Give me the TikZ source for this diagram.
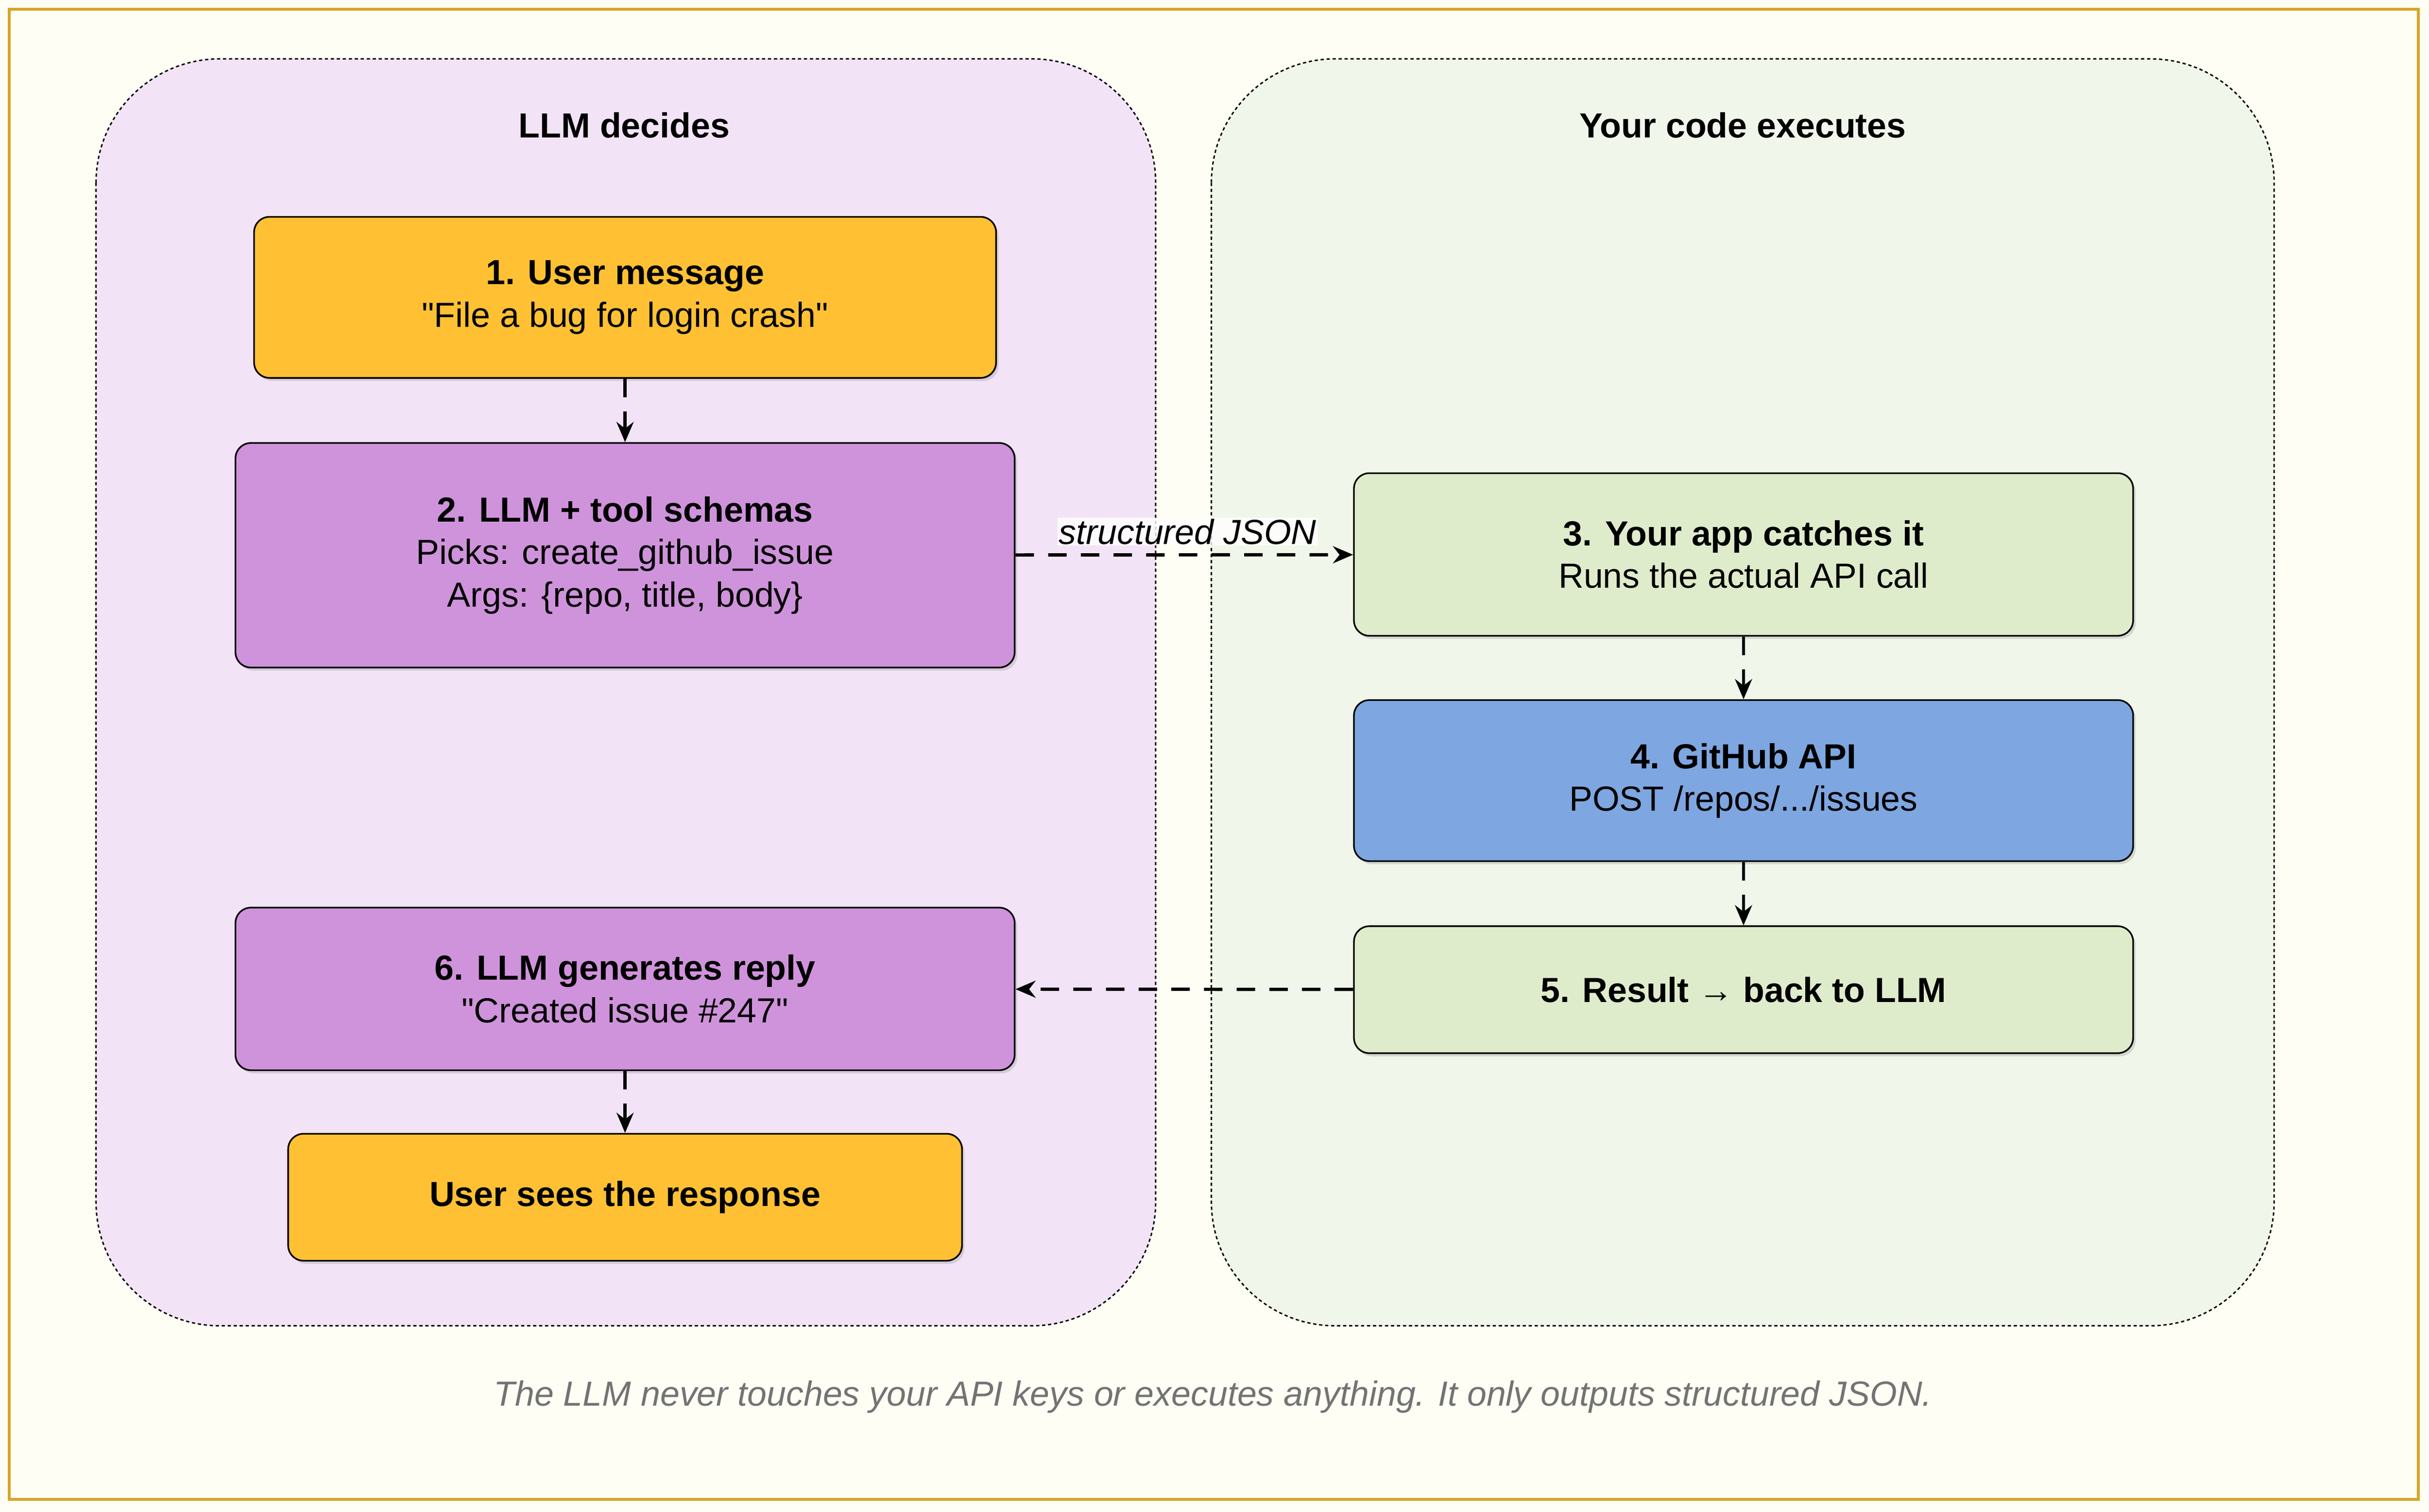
\documentclass[tikz,border=0pt]{standalone}
\usepackage{fontspec}
\setmainfont{Liberation Sans}
\usetikzlibrary{arrows.meta,shadows}
\definecolor{orangef}{HTML}{FFC133}
\definecolor{purpf}{HTML}{CF93DB}
\definecolor{greenf}{HTML}{DFECCB}
\definecolor{bluef}{HTML}{7EA6E0}
\definecolor{lpurp}{HTML}{F2E4F6}
\definecolor{lgreen}{HTML}{F0F6EA}
\begin{document}
\begin{tikzpicture}[x=0.05cm,y=-0.05cm,
  every node/.style={font=\fontsize{32}{39}\selectfont},
  box/.style={draw=black,line width=1.5pt,rounded corners=0.5cm,align=center,inner sep=0pt,drop shadow={opacity=0.25,shadow xshift=0.08cm,shadow yshift=-0.1cm}},
  cont/.style={draw=black,line width=1.3pt,dash pattern=on 3pt off 2.5pt,rounded corners=4cm},
  arr/.style={-{Stealth[length=0.65cm,width=0.55cm]},line width=3pt,dash pattern=on 17pt off 13pt}]
\useasboundingbox (0,0) rectangle (1568,976);
\fill[white!96!yellow] (0,0) rectangle (1568,976);
\draw[color={rgb,255:red,214;green,166;blue,40},line width=2.5pt] (6,6) rectangle (1561,968);
\draw[cont,fill=lpurp] (62,38) rectangle (746,856);
\draw[cont,fill=lgreen] (782,38) rectangle (1468,856);
\node[font=\fontsize{32}{39}\selectfont\bfseries] (t1) at (403,81) {LLM decides};
\node[font=\fontsize{32}{39}\selectfont\bfseries] (t2) at (1125,81) {Your code executes};
\node[box,fill=orangef,minimum width=479*0.05cm,minimum height=104*0.05cm] (b1) at (403.5,192) {\textbf{1. User message}\\\textquotedbl File a bug for login crash\textquotedbl};
\node[box,fill=purpf,minimum width=503*0.05cm,minimum height=145*0.05cm] (b2) at (403.5,358.5) {\textbf{2. LLM + tool schemas}\\Picks: create\_github\_issue\\Args: \{repo, title, body\}};
\node[box,fill=greenf,minimum width=503*0.05cm,minimum height=105*0.05cm] (b3) at (1125.5,358) {\textbf{3. Your app catches it}\\Runs the actual API call};
\node[box,fill=bluef,minimum width=503*0.05cm,minimum height=104*0.05cm] (b4) at (1125.5,504) {\textbf{4. GitHub API}\\POST /repos/.../issues};
\node[box,fill=greenf,minimum width=503*0.05cm,minimum height=82*0.05cm] (b5) at (1125.5,639) {\textbf{5. Result → back to LLM}};
\node[box,fill=purpf,minimum width=503*0.05cm,minimum height=105*0.05cm] (b6) at (403.5,638.5) {\textbf{6. LLM generates reply}\\\textquotedbl Created issue \#247\textquotedbl};
\node[box,fill=orangef,minimum width=435*0.05cm,minimum height=82*0.05cm] (b7) at (403.5,773) {\textbf{User sees the response}};
\draw[arr] (b1) -- (b2);
\draw[arr] (b2) -- node[pos=0.51,above=7pt,fill=white,fill opacity=0.8,text opacity=1,inner sep=1pt,font=\fontsize{32}{39}\selectfont\itshape] (lj) {structured JSON} (b3);
\draw[arr] (b3) -- (b4);
\draw[arr] (b4) -- (b5);
\draw[arr] (b5) -- (b6);
\draw[arr] (b6) -- (b7);
\node[text=black!55,font=\fontsize{32}{39}\selectfont\itshape] (cap) at (783,902) {The LLM never touches your API keys or executes anything. It only outputs structured JSON.};
\end{tikzpicture}
\end{document}
